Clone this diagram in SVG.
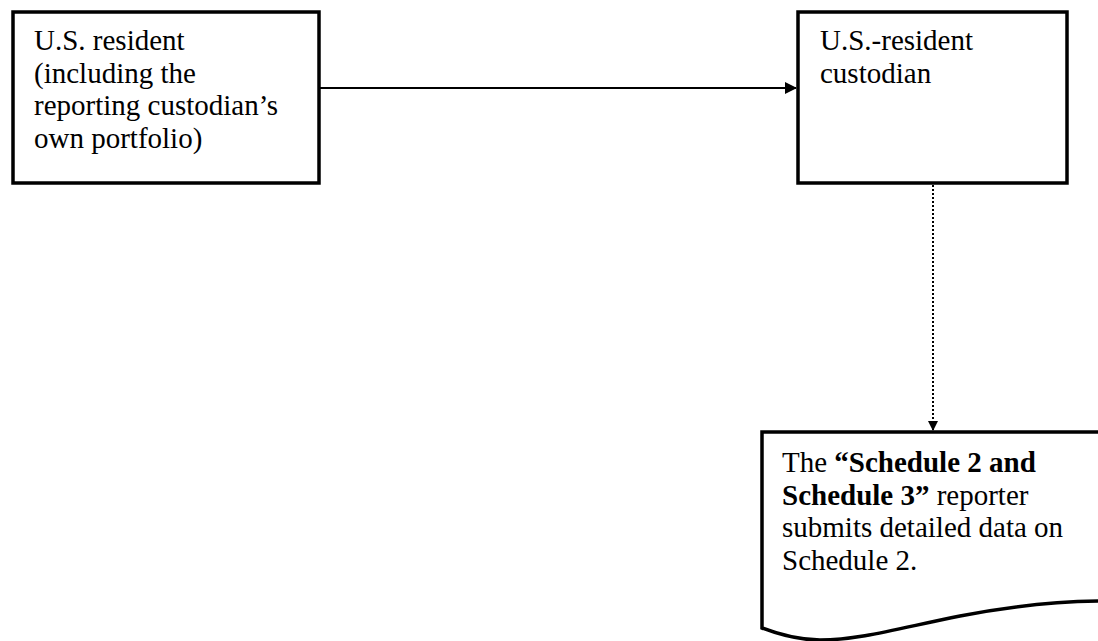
<svg xmlns="http://www.w3.org/2000/svg" width="1098" height="641" viewBox="0 0 1098 641">
<defs>
<style>
.box{fill:#fff;stroke:#000;stroke-width:3.5}
.t{font-family:"Liberation Serif","Times New Roman",serif;font-size:29px;fill:#000}
.b{font-weight:bold}
.conn{fill:none;stroke:#000}
</style>
<marker id="ah" markerWidth="10" markerHeight="10" refX="9" refY="5" orient="auto" markerUnits="userSpaceOnUse">
<path d="M0,0 L10,5 L0,10 Z" fill="#000"/>
</marker>
<marker id="ah2" markerWidth="12" markerHeight="12" refX="11" refY="6" orient="auto" markerUnits="userSpaceOnUse">
<path d="M0,0 L12,6 L0,12 Z" fill="#000"/>
</marker>
</defs>
<rect width="1098" height="641" fill="#fff"/>
<g id="connectors">
<line class="conn" x1="320" y1="88" x2="796" y2="88" stroke-width="2" marker-end="url(#ah2)"/>
<line class="conn" x1="933" y1="185" x2="933" y2="430" stroke-width="2" stroke-dasharray="2,2" marker-end="url(#ah)"/>
</g>
<g id="node-us-resident">
<rect class="box" x="13" y="12" width="306" height="171"/>
<text class="t"><tspan x="34" y="50">U.S. resident</tspan><tspan x="34" y="82.5">(including the</tspan><tspan x="34" y="115">reporting custodian’s</tspan><tspan x="34" y="147.5">own portfolio)</tspan></text>
</g>
<g id="node-custodian">
<rect class="box" x="798" y="12" width="269" height="171"/>
<text class="t"><tspan x="820" y="50">U.S.-resident</tspan><tspan x="820" y="82.5">custodian</tspan></text>
</g>
<g id="node-document">
<path class="box" d="M762,432 L1110,432 L1110,601 C1060,601 1010,606 960,616 C900,628 860,640 820,640 C795,640 775,633 762,628 Z"/>
<text class="t"><tspan x="782" y="472">The </tspan><tspan class="b">“Schedule 2 and</tspan><tspan class="b" x="782" y="504.5">Schedule 3”</tspan><tspan> reporter</tspan><tspan x="782" y="537">submits detailed data on</tspan><tspan x="782" y="569.5">Schedule 2.</tspan></text>
</g>
</svg>
